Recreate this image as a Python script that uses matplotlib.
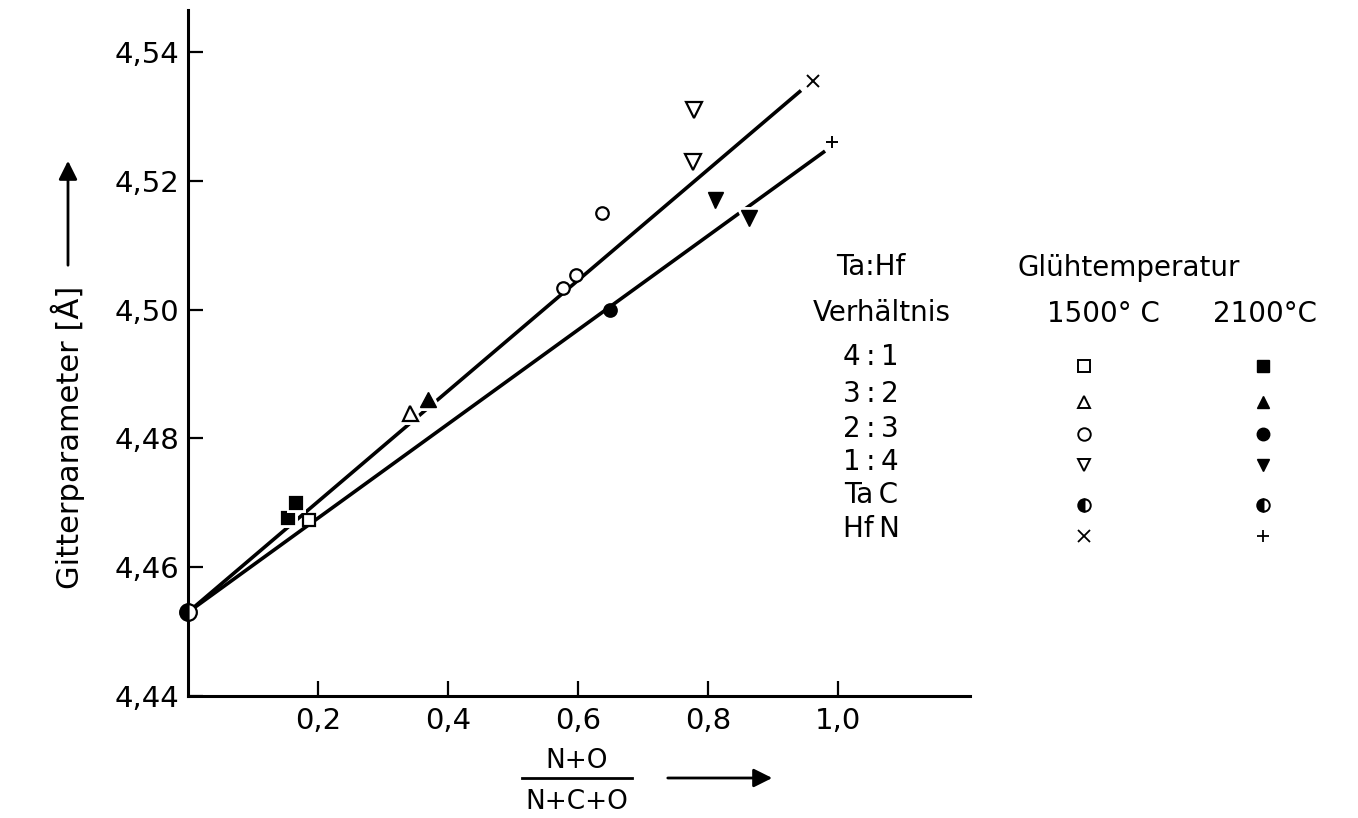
import matplotlib
matplotlib.use('Agg')
import matplotlib.pyplot as plt
from matplotlib.ticker import FuncFormatter
from matplotlib.lines import Line2D
import matplotlib.patheffects as pe

plt.rcParams['font.family'] = ['DejaVu Sans']

# Ta:Hf ratio series, annealed at 1500 C (open) and 2100 C (filled)
x_41_1500 = [0.186]
y_41_1500 = [4.4673]
x_41_2100 = [0.154, 0.166]
y_41_2100 = [4.4676, 4.4700]

x_32_1500 = [0.342]
y_32_1500 = [4.4839]
x_32_2100 = [0.369]
y_32_2100 = [4.4860]

x_23_1500 = [0.577, 0.597, 0.637]
y_23_1500 = [4.5034, 4.5054, 4.5150]
x_23_2100 = [0.649]
y_23_2100 = [4.5000]

x_14_1500 = [0.777, 0.778]
y_14_1500 = [4.5229, 4.5310]
x_14_2100 = [0.811, 0.863]
y_14_2100 = [4.5170, 4.5142]

x_tac = [0.0]
y_tac = [4.453]
x_hfn_1500 = [0.962]
y_hfn_1500 = [4.5355]
x_hfn_2100 = [0.991]
y_hfn_2100 = [4.5260]

# hand drawn regression lines
line_1500_x = [0.0, 0.943]
line_1500_y = [4.453, 4.534]
line_2100_x = [0.0, 0.980]
line_2100_y = [4.453, 4.5246]

xticks = [0.2, 0.4, 0.6, 0.8, 1.0]
yticks = [4.44, 4.46, 4.48, 4.50, 4.52, 4.54]

legend_rows = ['4\u2009:\u20091', '3\u2009:\u20092', '2\u2009:\u20093', '1\u2009:\u20094',
               'Ta\u2009C', 'Hf\u2009N']


W, H = 1358, 818
fig = plt.figure(figsize=(W / 100, H / 100), dpi=100)
ax = fig.add_axes([188 / W, 1 - 696 / H, (970 - 188) / W, (696 - 10) / H])

halo = [pe.withStroke(linewidth=5, foreground='white')]

ax.plot(line_1500_x, line_1500_y, color='k', lw=2.6, solid_capstyle='butt', zorder=2)
ax.plot(line_2100_x, line_2100_y, color='k', lw=2.6, solid_capstyle='butt', zorder=2)

ms = 9
open_kw = dict(ls='none', mfc='white', mec='k', mew=1.6, ms=ms, zorder=3)
fill_kw = dict(ls='none', mfc='k', mec='k', mew=1.6, ms=ms, zorder=3)

ax.plot(x_41_1500, y_41_1500, marker='s', **open_kw)
ax.plot(x_41_2100, y_41_2100, marker='s', path_effects=halo, **fill_kw)
ax.plot(x_32_1500, y_32_1500, marker='^', path_effects=halo, ls='none', mfc='white',
        mec='k', mew=1.6, ms=ms + 2, zorder=3)
ax.plot(x_32_2100, y_32_2100, marker='^', path_effects=halo, ls='none', mfc='k',
        mec='k', ms=ms + 2, zorder=3)
ax.plot(x_23_1500, y_23_1500, marker='o', **open_kw)
ax.plot(x_23_2100, y_23_2100, marker='o', **fill_kw)
ax.plot(x_14_1500, y_14_1500, marker='v', ls='none', mfc='white', mec='k', mew=1.6,
        ms=ms + 2, zorder=3)
ax.plot(x_14_2100, y_14_2100, marker='v', path_effects=halo, ls='none', mfc='k',
        mec='k', ms=ms + 2, zorder=3)
ax.plot(x_tac, y_tac, ls='none', marker='o', fillstyle='left', mfc='k', mfcalt='white',
        mec='k', mew=1.6, ms=12, zorder=4, clip_on=False)
ax.plot(x_hfn_1500, y_hfn_1500, ls='none', marker='x', color='k', mew=1.4, ms=8, zorder=3)
ax.plot(x_hfn_2100, y_hfn_2100, ls='none', marker='+', color='k', mew=1.4, ms=9, zorder=3)

ax.set_xlim(0, 1.203)
ax.set_ylim(4.44, 4.5465)
ax.set_xticks(xticks)
ax.set_yticks(yticks)
ax.xaxis.set_major_formatter(FuncFormatter(lambda v, p: f'{v:.1f}'.replace('.', ',')))
ax.yaxis.set_major_formatter(FuncFormatter(lambda v, p: f'{v:.2f}'.replace('.', ',')))
ax.tick_params(direction='in', length=11, width=1.6, labelsize=21)
ax.tick_params(axis='x', pad=8)
ax.tick_params(axis='y', pad=6)
for s in ['top', 'right']:
    ax.spines[s].set_visible(False)
for s in ['left', 'bottom']:
    ax.spines[s].set_linewidth(2.2)

# overlay in pixel coordinates for labels and the symbol table
ov = fig.add_axes([0, 0, 1, 1], facecolor='none')
ov.set_xlim(0, W)
ov.set_ylim(H, 0)
ov.axis('off')

fs = 20
ov.text(68, 437, 'Gitterparameter [Å]', rotation=90, ha='center', va='center', fontsize=22)
ov.annotate('', xy=(68, 158), xytext=(68, 268),
            arrowprops=dict(arrowstyle='-|>', lw=2, color='k', mutation_scale=28))

ov.text(577, 768, 'N+O', ha='center', va='baseline', fontsize=19)
ov.add_line(Line2D([522, 632], [778, 778], color='k', lw=2))
ov.text(577, 809, 'N+C+O', ha='center', va='baseline', fontsize=19)
ov.annotate('', xy=(775, 778), xytext=(665, 778),
            arrowprops=dict(arrowstyle='-|>', lw=2, color='k', mutation_scale=28))

ov.text(871, 275, 'Ta:Hf', ha='center', va='baseline', fontsize=fs)
ov.text(882, 321, 'Verhältnis', ha='center', va='baseline', fontsize=fs)
ov.text(1129, 276, 'Glühtemperatur', ha='center', va='baseline', fontsize=fs)
ov.text(1103, 322, '1500° C', ha='center', va='baseline', fontsize=fs)
ov.text(1265, 322, '2100°C', ha='center', va='baseline', fontsize=fs)

row_base = [365, 402, 437, 470, 503, 537]
row_mark = [366, 402, 434, 465, 505, 536]
for lab, yb in zip(legend_rows, row_base):
    ov.text(871, yb, lab, ha='center', va='baseline', fontsize=fs)

lm = 8
ov.plot(1084, row_mark[0], marker='s', mfc='white', mec='k', mew=1.4, ms=lm)
ov.plot(1263, row_mark[0], marker='s', mfc='k', mec='k', ms=lm)
ov.plot(1084, row_mark[1], marker='^', mfc='white', mec='k', mew=1.4, ms=lm + 1)
ov.plot(1263, row_mark[1], marker='^', mfc='k', mec='k', ms=lm + 1)
ov.plot(1084, row_mark[2], marker='o', mfc='white', mec='k', mew=1.4, ms=lm + 1)
ov.plot(1263, row_mark[2], marker='o', mfc='k', mec='k', ms=lm + 1)
ov.plot(1084, row_mark[3], marker='v', mfc='white', mec='k', mew=1.4, ms=lm + 1)
ov.plot(1263, row_mark[3], marker='v', mfc='k', mec='k', ms=lm + 1)
ov.plot(1084, row_mark[4], marker='o', fillstyle='left', mfc='k', mfcalt='white', mec='k', mew=1.4, ms=lm + 1)
ov.plot(1263, row_mark[4], marker='o', fillstyle='left', mfc='k', mfcalt='white', mec='k', mew=1.4, ms=lm + 1)
ov.plot(1084, row_mark[5], marker='x', color='k', mew=1.3, ms=lm)
ov.plot(1263, row_mark[5], marker='+', color='k', mew=1.3, ms=lm + 1)

fig.savefig('out.png', dpi=100, facecolor='white')
